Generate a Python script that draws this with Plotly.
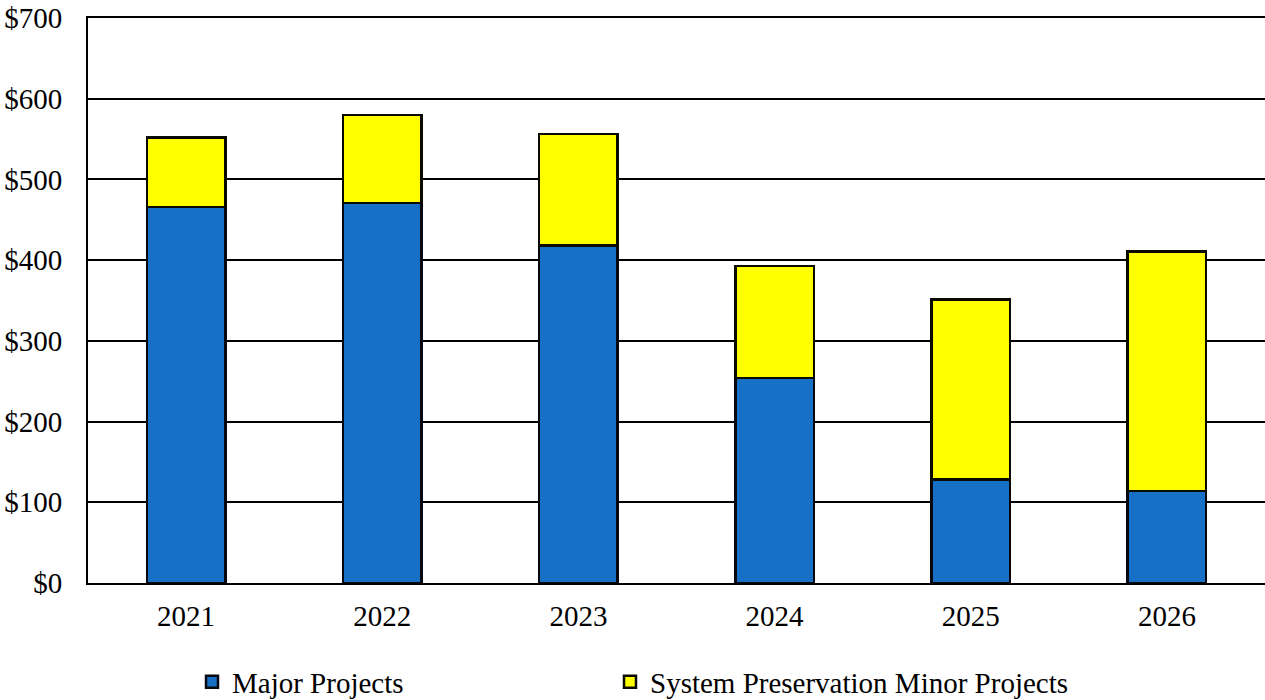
import plotly.graph_objects as go

years = ["2021", "2022", "2023", "2024", "2025", "2026"]
major_projects = [466, 471, 418, 254, 128, 114]
minor_projects = [86, 109, 138, 139, 223, 297]
y_ticks = [0, 100, 200, 300, 400, 500, 600, 700]
y_tick_labels = ["$0", "$100", "$200", "$300", "$400", "$500", "$600", "$700"]

FONT = "Liberation Serif, Times New Roman, serif"
FONT_SIZE = 29

fig = go.Figure()
fig.add_trace(go.Bar(
    x=years, y=major_projects, name="Major Projects", legend="legend",
    marker=dict(color="#1570C6", line=dict(color="#05080f", width=2.5)),
))
fig.add_trace(go.Bar(
    x=years, y=minor_projects, name="System Preservation Minor Projects",
    legend="legend2",
    marker=dict(color="#FFFF00", line=dict(color="#0a0a00", width=2.5)),
))

legend_style = dict(
    orientation="h", xanchor="left",
    yref="container", y=0.026, yanchor="middle",
    font=dict(family=FONT, size=FONT_SIZE),
    bgcolor="rgba(0,0,0,0)",
)

fig.update_layout(
    barmode="stack",
    bargap=0.6,
    width=1265, height=700,
    margin=dict(l=88, r=0, t=18, b=117),
    paper_bgcolor="white", plot_bgcolor="white",
    font=dict(family=FONT, size=FONT_SIZE, color="black"),
    showlegend=True,
    legend=dict(xref="container", x=192 / 1265, **legend_style),
    legend2=dict(xref="container", x=610 / 1265, **legend_style),
)
fig.update_yaxes(
    range=[0, 700], tickvals=y_ticks, ticktext=y_tick_labels,
    showgrid=True, gridcolor="black", gridwidth=2,
    showline=True, linecolor="black", linewidth=2,
    zeroline=False, ticks="", ticklabelstandoff=18,
)
fig.update_xaxes(
    showline=True, linecolor="black", linewidth=2, mirror=True,
    showgrid=False, ticks="", ticklabelstandoff=6,
)

fig.write_html("out.html")
